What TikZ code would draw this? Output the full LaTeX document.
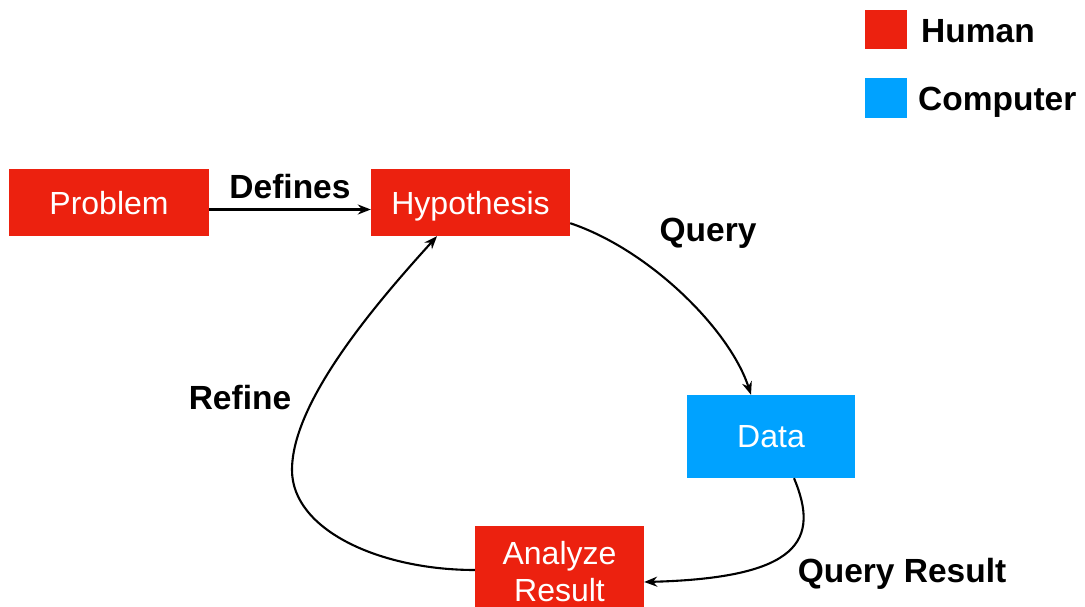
\documentclass[tikz,border=0pt]{standalone}
\usepackage{fontspec}
\setmainfont{Liberation Sans}
\usetikzlibrary{arrows.meta}
\definecolor{humanred}{RGB}{236,33,15}
\definecolor{computerblue}{RGB}{0,162,255}

\begin{document}
\begin{tikzpicture}[x=1pt, y=-1pt,
  box/.style={inner sep=0pt, text=white, text depth=0pt, align=center,
    font=\fontsize{32}{37}\selectfont},
  human/.style={box, fill=humanred},
  computer/.style={box, fill=computerblue},
  lbl/.style={inner sep=0pt, anchor=base, font=\fontsize{33.5}{38}\selectfont\bfseries},
  flow/.style={line width=2.1pt, -{Stealth[length=13pt, width=10pt]}}]
  \useasboundingbox (0,0) rectangle (1085,607);

  % legend
  \node[human, minimum width=42pt, minimum height=39pt] (hkey) at (886,29.5) {};
  \node[computer, minimum width=42pt, minimum height=40pt] (ckey) at (886,98) {};
  \node[lbl, anchor=base west] (hname) at (921,43) {Human};
  \node[lbl, anchor=base west] (cname) at (918,111) {Computer};

  % boxes
  \node[human, minimum width=200pt, minimum height=67pt] (problem) at (109,202.5) {Problem};
  \node[human, minimum width=199pt, minimum height=67pt] (hypo) at (470.5,202.5) {Hypothesis};
  \node[computer, minimum width=168pt, minimum height=83pt] (data) at (771,436.5) {Data};
  \node[human, minimum width=169pt, minimum height=91pt] (analyze) at (559.5,571.5) {Analyze\\Result};

  % arrows
  \draw[flow] ([yshift=-7pt]problem.east) -- ([yshift=-7pt]hypo.west);
  \draw[flow] ([yshift=13pt]hypo.south east) .. controls (650,250) and (730,330) .. ([xshift=-20pt]data.north);
  \draw[flow] ([xshift=23pt]data.south) .. controls (820,540) and (800,578) .. ([yshift=-10.5pt]analyze.east);
  \draw[flow] ([yshift=1.5pt]analyze.west) .. controls +(-95,0) and +(0,60) .. (292,470)
    .. controls +(0,-70) and +(-57,63) .. ([xshift=-33.5pt]hypo.south);

  % labels
  \node[lbl] (defines) at (290,199) {Defines};
  \node[lbl] (query) at (708,241) {Query};
  \node[lbl] (refine) at (240,409) {Refine};
  \node[lbl] (result) at (902,582) {Query Result};
\end{tikzpicture}
\end{document}
